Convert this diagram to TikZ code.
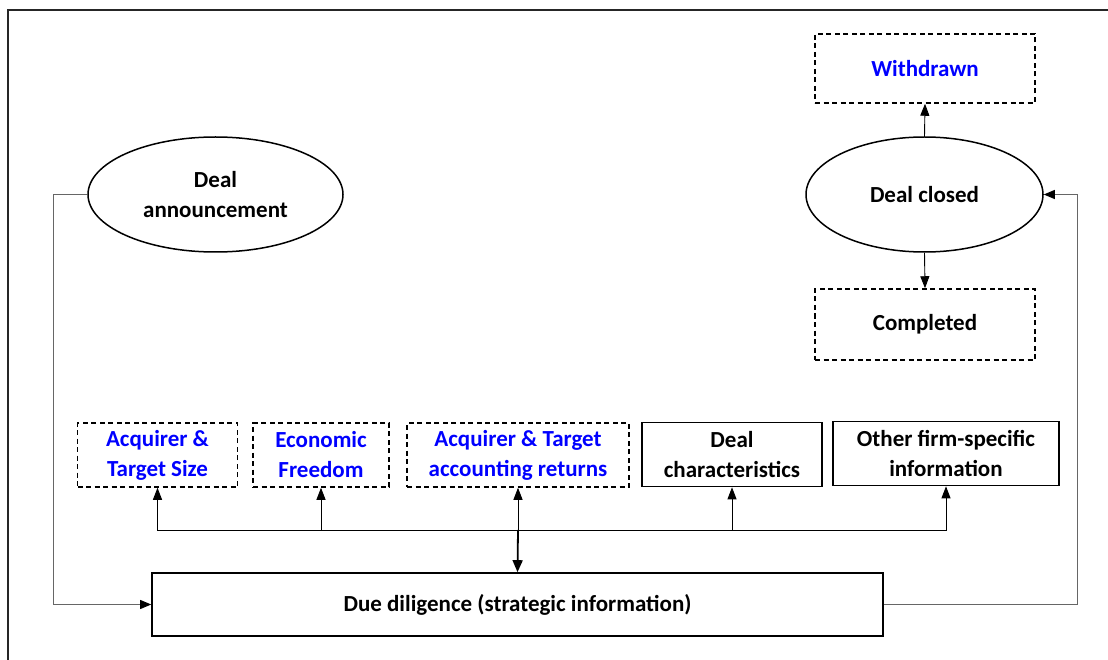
\documentclass[tikz,border=0pt]{standalone}
\usepackage{fontspec}
\setmainfont{Carlito}
\usetikzlibrary{shapes.geometric,arrows.meta}

\begin{document}
\begin{tikzpicture}[x=1pt,y=-1pt,
  every node/.style={font=\fontsize{23}{30}\selectfont\bfseries, align=center, inner sep=0pt},
  stage/.style={ellipse, draw, line width=1.5pt, minimum height=115pt},
  solidbox/.style={rectangle, draw, line width=1.6pt, minimum height=64pt},
  dashbox/.style={rectangle, draw, line width=1.5pt, dash pattern=on 5pt off 3.5pt, minimum height=64pt},
  var/.style={text=blue},
  link/.style={line width=0.9pt, -{Triangle[length=12pt,width=9pt]}},
  greylink/.style={link, draw=black!60, -{Triangle[length=11pt,width=9pt,fill=black,color=black]}},
]
\useasboundingbox (0,0) rectangle (1108,660);
% frame
\draw[line width=2pt, black!85] (8,661) -- (8,10) -- (1109,10);

% stages of the deal
\node[stage, minimum width=255pt] (ann) at (215.5,194.5) {Deal\\announcement};
\node[stage, minimum width=237pt] (closed) at (924.5,194.5) {Deal closed};
\node[dashbox, var, minimum width=220pt, minimum height=69pt] (wd) at (925,68.5) {Withdrawn};
\node[dashbox, minimum width=220pt, minimum height=71pt] (comp) at (925,324.5) {Completed};

% due diligence
\node[solidbox, minimum width=731pt, minimum height=63pt] (dd) at (517.5,604.5) {Due diligence (strategic information)};

% information sources
\node[dashbox, var, minimum width=160pt] (b1) at (157.5,455) {Acquirer \&\\Target Size};
\node[dashbox, var, minimum width=136pt] (b2) at (321,455) {Economic\\Freedom};
\node[dashbox, var, minimum width=222pt] (b3) at (518,455) {Acquirer \& Target\\accounting returns};
\node[solidbox, minimum width=180pt] (b4) at (732,454.5) {Deal\\characteristics};
\node[solidbox, minimum width=226pt] (b5) at (946,453.5) {Other firm-specific\\information};

\coordinate (hub) at (518,530);

% outcome arrows
\draw[link] (closed.north) -- (wd.south);
\draw[link] (closed.south) -- (comp.north);

% flow around the process
\draw[greylink] (ann.west) -- ++(-34,0) |- (dd.west);
\draw[greylink] (dd.east) -- ++(194,0) |- (closed.east);

% information bus
\draw[line width=0.9pt] (b1.south |- hub) -- (b5.south |- hub);
\draw[link] (hub) -| (b1.south);
\draw[link] (hub) -| (b2.south);
\draw[link] (hub) -- (b3.south);
\draw[link] (hub) -| (b4.south);
\draw[link] (hub) -| (b5.south);
\draw[link, line width=1.8pt, -{Triangle[length=12pt,width=10pt]}] (hub) -- (dd.north);
\end{tikzpicture}
\end{document}
